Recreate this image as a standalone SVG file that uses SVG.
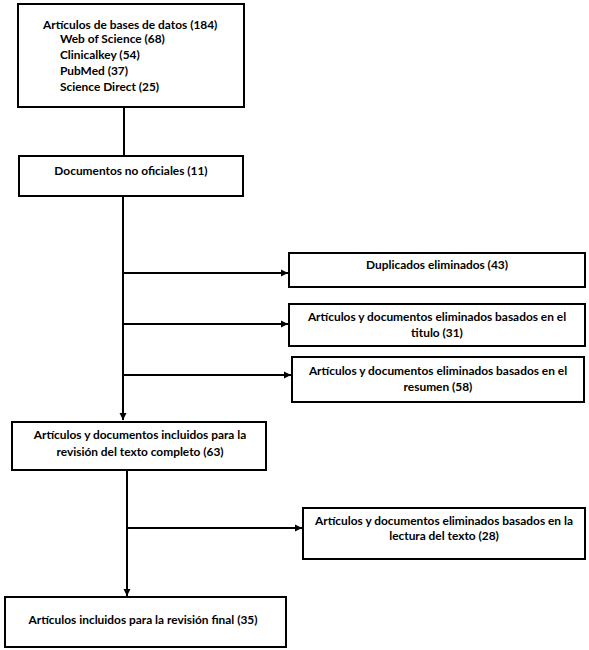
<svg xmlns="http://www.w3.org/2000/svg" width="589" height="650" viewBox="0 0 589 650">
<defs>
<style>
.box{fill:#fff;stroke:#000;stroke-width:2}
.t{font-family:Lato,"Liberation Sans",sans-serif;font-size:11.9px;font-weight:bold;fill:#000}
.c{text-anchor:middle}
.ln{fill:none;stroke:#000;stroke-width:2}
</style>
<marker id="ah" markerUnits="userSpaceOnUse" markerWidth="8" markerHeight="8" refX="7" refY="4" orient="auto">
<path d="M0,0.5 L7,4 L0,7.5 z" fill="#000"/>
</marker>
</defs>
<rect width="589" height="650" fill="#fff"/>
<g id="connectors">
<line class="ln" x1="124" y1="107" x2="124" y2="156"/>
<line class="ln" x1="123" y1="196" x2="123" y2="420" marker-end="url(#ah)"/>
<line class="ln" x1="123" y1="273" x2="288" y2="273" marker-end="url(#ah)"/>
<line class="ln" x1="123" y1="324" x2="288" y2="324" marker-end="url(#ah)"/>
<line class="ln" x1="123" y1="375" x2="291" y2="375" marker-end="url(#ah)"/>
<line class="ln" x1="127" y1="470" x2="127" y2="596" marker-end="url(#ah)"/>
<line class="ln" x1="127" y1="528" x2="302" y2="528" marker-end="url(#ah)"/>
</g>
<g id="n1">
<rect class="box" x="18" y="4" width="226" height="103"/>
<text class="t" x="43" y="29">Artículos de bases de datos (184)</text>
<text class="t" x="60" y="43">Web of Science (68)</text>
<text class="t" x="60" y="59">Clinicalkey (54)</text>
<text class="t" x="60" y="75">PubMed (37)</text>
<text class="t" x="60" y="91">Science Direct (25)</text>
</g>
<g id="n2">
<rect class="box" x="19" y="156" width="224" height="40"/>
<text class="t c" x="131" y="175">Documentos no oficiales (11)</text>
</g>
<g id="n3">
<rect class="box" x="289" y="253" width="296" height="34"/>
<text class="t c" x="437" y="269">Duplicados eliminados (43)</text>
</g>
<g id="n4">
<rect class="box" x="289" y="304" width="296" height="42"/>
<text class="t c" x="437" y="321">Artículos y documentos eliminados basados en el</text>
<text class="t c" x="437" y="337">titulo (31)</text>
</g>
<g id="n5">
<rect class="box" x="292" y="357" width="292" height="45"/>
<text class="t c" x="438" y="375">Artículos y documentos eliminados basados en el</text>
<text class="t c" x="438" y="391">resumen (58)</text>
</g>
<g id="n6">
<rect class="box" x="12" y="422" width="254" height="48"/>
<text class="t c" x="140" y="439">Artículos y documentos incluidos para la</text>
<text class="t c" x="140" y="456">revisión del texto completo (63)</text>
</g>
<g id="n7">
<rect class="box" x="303" y="508" width="282" height="51"/>
<text class="t c" x="444" y="525">Artículos y documentos eliminados basados en la</text>
<text class="t c" x="444" y="540">lectura del texto (28)</text>
</g>
<g id="n8">
<rect class="box" x="5" y="597" width="281" height="50"/>
<text class="t c" x="143" y="624">Artículos incluidos para la revisión final (35)</text>
</g>
</svg>
